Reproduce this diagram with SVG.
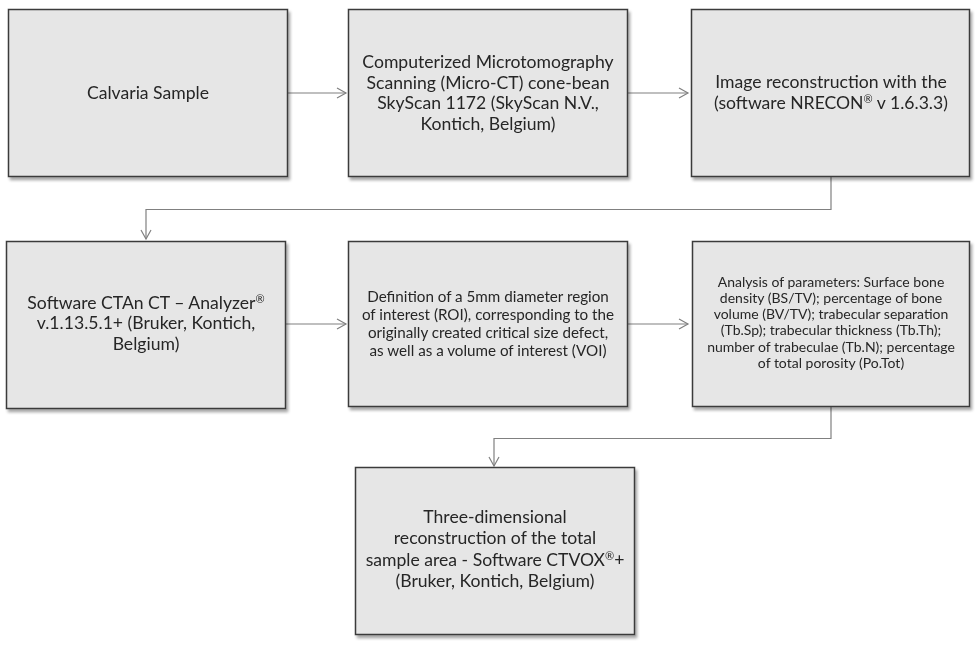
<svg xmlns="http://www.w3.org/2000/svg" width="980" height="646" viewBox="0 0 980 646">
<style>
.box{fill:#e6e6e6;stroke:#3a3a3a;stroke-width:1.5}
.t{font-family:Lato,"Open Sans","Liberation Sans",sans-serif;fill:#262626;text-anchor:middle}
.t1{font-size:17.6px}
.t2{font-size:15.2px}
.t3{font-size:14px}
.sup{font-size:11px}
.c{fill:none;stroke:#808080;stroke-width:1.2}
</style>
<defs>
<filter id="sh" x="-5%" y="-5%" width="115%" height="115%">
<feGaussianBlur in="SourceAlpha" stdDeviation="1.5"/>
<feOffset dx="2" dy="2.5" result="b"/>
<feComponentTransfer><feFuncA type="linear" slope="0.35"/></feComponentTransfer>
<feMerge><feMergeNode/><feMergeNode in="SourceGraphic"/></feMerge>
</filter>
<marker id="ah" markerWidth="12" markerHeight="12" refX="10" refY="6" orient="auto" markerUnits="userSpaceOnUse">
<path d="M1,1 L10,6 L1,11" fill="none" stroke="#808080" stroke-width="1.2"/>
</marker>
</defs>
<g id="connectors">
<path class="c" d="M287,93 H346" marker-end="url(#ah)"/>
<path class="c" d="M628,93 H688" marker-end="url(#ah)"/>
<path class="c" d="M831,177 V209.5 H146 V239" marker-end="url(#ah)"/>
<path class="c" d="M286,324 H346" marker-end="url(#ah)"/>
<path class="c" d="M628,324 H688" marker-end="url(#ah)"/>
<path class="c" d="M831,407 V438.5 H494 V466" marker-end="url(#ah)"/>
</g>
<g id="n1" filter="url(#sh)">
<rect class="box" x="8.5" y="9.5" width="279" height="167"/>
<text class="t t1" x="148" y="98.5">Calvaria Sample</text>
</g>
<g id="n2" filter="url(#sh)">
<rect class="box" x="348.5" y="9.5" width="279" height="167"/>
<text class="t t1" x="488" y="67.7">Computerized Microtomography</text>
<text class="t t1" x="488" y="88.5">Scanning (Micro-CT) cone-bean</text>
<text class="t t1" x="488" y="109.3">SkyScan 1172 (SkyScan N.V.,</text>
<text class="t t1" x="488" y="130">Kontich, Belgium)</text>
</g>
<g id="n3" filter="url(#sh)">
<rect class="box" x="691.5" y="9.5" width="278" height="167"/>
<text class="t t1" x="831" y="88">Image reconstruction  with the</text>
<text class="t t1" x="831" y="108.7">(software NRECON<tspan class="sup" dy="-6">®</tspan><tspan dy="6"> v 1.6.3.3)</tspan></text>
</g>
<g id="n4" filter="url(#sh)">
<rect class="box" x="6.5" y="241.5" width="279" height="167"/>
<text class="t t1" x="146" y="309">Software CTAn CT – Analyzer<tspan class="sup" dy="-6">®</tspan></text>
<text class="t t1" x="146" y="329.3">v.1.13.5.1+ (Bruker, Kontich,</text>
<text class="t t1" x="146" y="350">Belgium)</text>
</g>
<g id="n5" filter="url(#sh)">
<rect class="box" x="348.5" y="241.5" width="279" height="165"/>
<text class="t t2" x="488" y="302.3">Definition of a 5mm diameter region</text>
<text class="t t2" x="488" y="320.2">of interest (ROI), corresponding to the</text>
<text class="t t2" x="488" y="338.1">originally created critical size defect,</text>
<text class="t t2" x="488" y="356">as well as a volume of interest (VOI)</text>
</g>
<g id="n6" filter="url(#sh)">
<rect class="box" x="692.5" y="241.5" width="277" height="165"/>
<text class="t t3" x="831" y="286.7">Analysis of parameters: Surface bone</text>
<text class="t t3" x="831" y="302.9">density (BS/TV); percentage of bone</text>
<text class="t t3" x="831" y="319.1">volume (BV/TV); trabecular separation</text>
<text class="t t3" x="831" y="335.3">(Tb.Sp); trabecular thickness (Tb.Th);</text>
<text class="t t3" x="831" y="351.5">number of trabeculae (Tb.N); percentage</text>
<text class="t t3" x="831" y="367.7">of total porosity (Po.Tot)</text>
</g>
<g id="n7" filter="url(#sh)">
<rect class="box" x="355.5" y="467.5" width="279" height="167"/>
<text class="t t1" x="495" y="523.3">Three-dimensional</text>
<text class="t t1" x="495" y="544.4">reconstruction  of the total</text>
<text class="t t1" x="495" y="565.5">sample area - Software CTVOX<tspan class="sup" dy="-6">®</tspan><tspan dy="6">+</tspan></text>
<text class="t t1" x="495" y="586.6">(Bruker, Kontich, Belgium)</text>
</g>
</svg>
